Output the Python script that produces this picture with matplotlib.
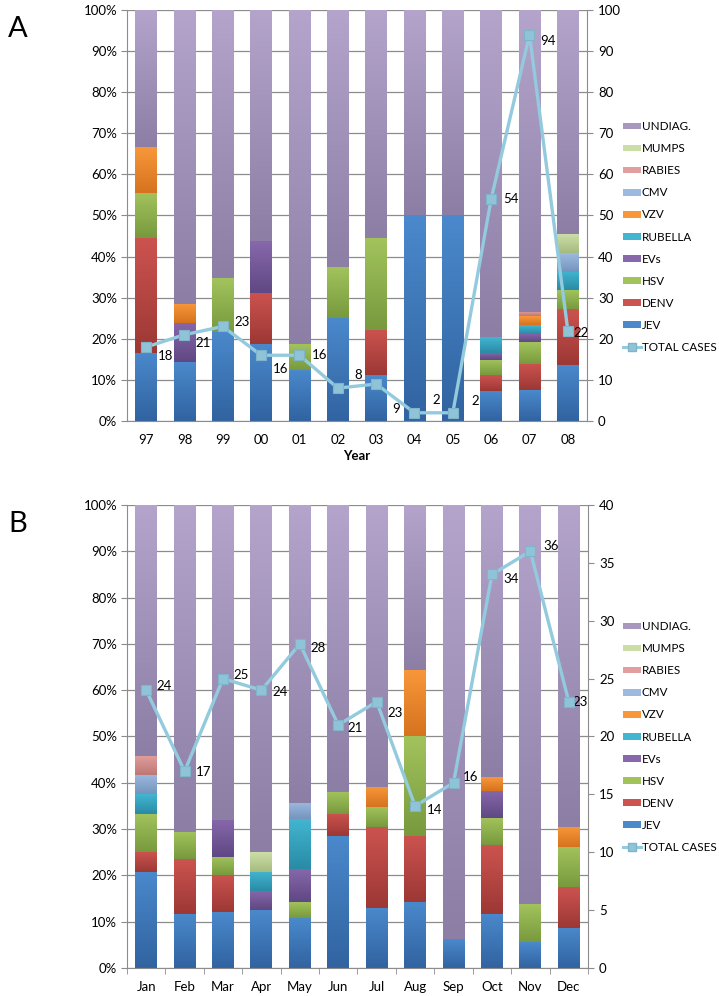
import numpy as np
import matplotlib.pyplot as plt
from matplotlib.colors import LinearSegmentedColormap
from matplotlib.patches import Patch
from matplotlib.lines import Line2D
from matplotlib.ticker import PercentFormatter

plt.rcParams['font.family'] = ['Lato', 'DejaVu Sans']

# case counts per aetiology, bottom to top of the stack
series = ['JEV', 'DENV', 'HSV', 'EVs', 'RUBELLA', 'VZV', 'CMV', 'RABIES', 'MUMPS', 'UNDIAG.']

years = ['97', '98', '99', '00', '01', '02', '03', '04', '05', '06', '07', '08']
year_counts = {
    'JEV':     [3, 3, 5, 3, 2, 2, 1, 1, 1, 4, 7, 3],
    'DENV':    [5, 0, 0, 2, 0, 0, 1, 0, 0, 2, 6, 3],
    'HSV':     [2, 0, 3, 0, 1, 1, 2, 0, 0, 2, 5, 1],
    'EVs':     [0, 2, 0, 2, 0, 0, 0, 0, 0, 1, 2, 0],
    'RUBELLA': [0, 0, 0, 0, 0, 0, 0, 0, 0, 2, 2, 1],
    'VZV':     [2, 1, 0, 0, 0, 0, 0, 0, 0, 0, 2, 0],
    'CMV':     [0, 0, 0, 0, 0, 0, 0, 0, 0, 0, 0, 1],
    'RABIES':  [0, 0, 0, 0, 0, 0, 0, 0, 0, 0, 1, 0],
    'MUMPS':   [0, 0, 0, 0, 0, 0, 0, 0, 0, 0, 0, 1],
    'UNDIAG.': [6, 15, 15, 9, 13, 5, 5, 1, 1, 43, 69, 12],
}
year_totals = [18, 21, 23, 16, 16, 8, 9, 2, 2, 54, 94, 22]

months = ['Jan', 'Feb', 'Mar', 'Apr', 'May', 'Jun', 'Jul', 'Aug', 'Sep', 'Oct', 'Nov', 'Dec']
month_counts = {
    'JEV':     [5, 2, 3, 3, 3, 6, 3, 2, 1, 4, 2, 2],
    'DENV':    [1, 2, 2, 0, 0, 1, 4, 2, 0, 5, 0, 2],
    'HSV':     [2, 1, 1, 0, 1, 1, 1, 3, 0, 2, 3, 2],
    'EVs':     [0, 0, 2, 1, 2, 0, 0, 0, 0, 2, 0, 0],
    'RUBELLA': [1, 0, 0, 1, 3, 0, 0, 0, 0, 0, 0, 0],
    'VZV':     [0, 0, 0, 0, 0, 0, 1, 2, 0, 1, 0, 1],
    'CMV':     [1, 0, 0, 0, 1, 0, 0, 0, 0, 0, 0, 0],
    'RABIES':  [1, 0, 0, 0, 0, 0, 0, 0, 0, 0, 0, 0],
    'MUMPS':   [0, 0, 0, 1, 0, 0, 0, 0, 0, 0, 0, 0],
    'UNDIAG.': [13, 12, 17, 18, 18, 13, 14, 5, 15, 20, 31, 16],
}
month_totals = [24, 17, 25, 24, 28, 21, 23, 14, 16, 34, 36, 23]

# (light top, dark bottom) of each segment's gradient
colors = {
    'JEV':     ('#4a89cc', '#3163a0'),
    'DENV':    ('#cc534f', '#9c3835'),
    'HSV':     ('#a2c35c', '#789a3e'),
    'EVs':     ('#8768ab', '#5f4883'),
    'RUBELLA': ('#42b5d0', '#2a8ba6'),
    'VZV':     ('#f8973a', '#d6731f'),
    'CMV':     ('#9cbadf', '#7594bd'),
    'RABIES':  ('#e29e9c', '#bd7876'),
    'MUMPS':   ('#cbdea6', '#a6bb80'),
    'UNDIAG.': ('#b4a4cb', '#8c7ea5'),
}
line_col = '#93cadd'
grid_col = '#8c8c8c'

# label nudges (pixels, x right / y up) for the total-case annotations
year_lab_dy = [-9, -8, 4, -14, 0, 13, -25, 13, 12, 0, -6, -2]
year_lab_dx = [19, 19, 19, 19, 20, 20, 20, 22, 22, 20, 19, 13]
month_lab_dy = [4, -1, 4, -2, -4, -3, -11, -4, 6, -5, 5, 0]
month_lab_dx = [18, 19, 18, 19, 18, 17, 18, 19, 17, 19, 21, 11]


def draw_panel(rect, cats, counts, totals, ymax2, step2, dxs, dys, letter, leg_y,
               xlabel=None, cat_ticks=False):
    ax = fig.add_axes(rect)
    x = np.arange(len(cats))
    tot = np.array(totals, dtype=float)
    width = 0.57
    bottom = np.zeros(len(cats))
    handles = {}
    for s in series:
        pct = np.array(counts[s]) / tot * 100
        light, dark = colors[s]
        bars = ax.bar(x, pct, width, bottom=bottom, color=light, linewidth=0, zorder=2)
        cmap = LinearSegmentedColormap.from_list(s, [dark, light])
        for b, xi, bo, h in zip(bars, x, bottom, pct):
            if h <= 0:
                continue
            im = ax.imshow(np.linspace(0, 1, 64).reshape(-1, 1), cmap=cmap, aspect='auto',
                           origin='lower', extent=[xi - width / 2, xi + width / 2, bo, bo + h],
                           zorder=2.5, interpolation='bicubic')
            im.set_clip_path(b)
        handles[s] = Patch(facecolor=(light if s != 'UNDIAG.' else '#a898c0'), edgecolor='none')
        bottom = bottom + pct

    ax.set_xlim(-0.5, len(cats) - 0.5)
    ax.set_ylim(0, 100)
    ax.set_yticks(np.arange(0, 101, 10))
    ax.yaxis.set_major_formatter(PercentFormatter(decimals=0))
    ax.yaxis.grid(True, color=grid_col, lw=0.9)
    ax.set_axisbelow(True)
    ax.set_xticks(x)
    ax.set_xticklabels(cats)
    ax.tick_params(axis='x', length=0, pad=9, labelsize=9.5)
    ax.tick_params(axis='y', length=4, color=grid_col, labelsize=9.5, pad=3)
    if cat_ticks:
        ax.set_xticks(np.arange(-0.5, len(cats), 1), minor=True)
        ax.tick_params(axis='x', which='minor', length=4, color=grid_col)
    for side in ['top', 'right']:
        ax.spines[side].set_visible(False)
    for side in ['left', 'bottom']:
        ax.spines[side].set_color(grid_col)
    if xlabel:
        ax.set_xlabel(xlabel, fontweight='bold', fontsize=9.5, labelpad=3)

    ax2 = ax.twinx()
    ax2.plot(x, totals, color=line_col, lw=2.4, marker='s', ms=6.5,
             mfc='#8fc3d8', mec='#7fb4cb', mew=0.8, zorder=5)
    for xi, t, dx, dy in zip(x, totals, dxs, dys):
        ax2.annotate(str(t), (xi, t), xytext=(dx, dy), textcoords='offset pixels',
                     ha='center', va='center', fontsize=9.5)
    ax2.set_ylim(0, ymax2)
    ax2.set_yticks(np.arange(0, ymax2 + 1, step2))
    ax2.set_xlim(-0.5, len(cats) - 0.5)
    for side in ['top', 'left', 'bottom']:
        ax2.spines[side].set_visible(False)
    ax2.spines['right'].set_color(grid_col)
    ax2.tick_params(axis='y', length=4, color=grid_col, labelsize=9.5, pad=4)

    leg_handles = [handles[s] for s in reversed(series)]
    leg_handles.append(Line2D([], [], color=line_col, lw=2.2, marker='s', ms=5.5,
                              mfc='#8fc3d8', mec='#7fb4cb'))
    labels = list(reversed(series)) + ['TOTAL CASES']
    l, b, w, h = rect
    fig.legend(leg_handles, labels, loc='center left',
               bbox_to_anchor=(0.866, leg_y), frameon=False, fontsize=8.4,
               handlelength=1.55, handleheight=0.5, handletextpad=0.1,
               labelspacing=0.95, borderpad=0, borderaxespad=0)

    fig.text(0.011, b + h - 0.006, letter, fontsize=21, va='top', ha='left')
    return ax


fig = plt.figure(figsize=(7.19, 9.96), dpi=100)
draw_panel([0.1766, 0.5773, 0.6398, 0.4127], years, year_counts, year_totals, 100, 10,
           year_lab_dx, year_lab_dy, 'A', 0.762, xlabel='Year')
draw_panel([0.1766, 0.0281, 0.6412, 0.4649], months, month_counts, month_totals, 40, 5,
           month_lab_dx, month_lab_dy, 'B', 0.260, cat_ticks=True)

fig.savefig('out.png', dpi=100)
